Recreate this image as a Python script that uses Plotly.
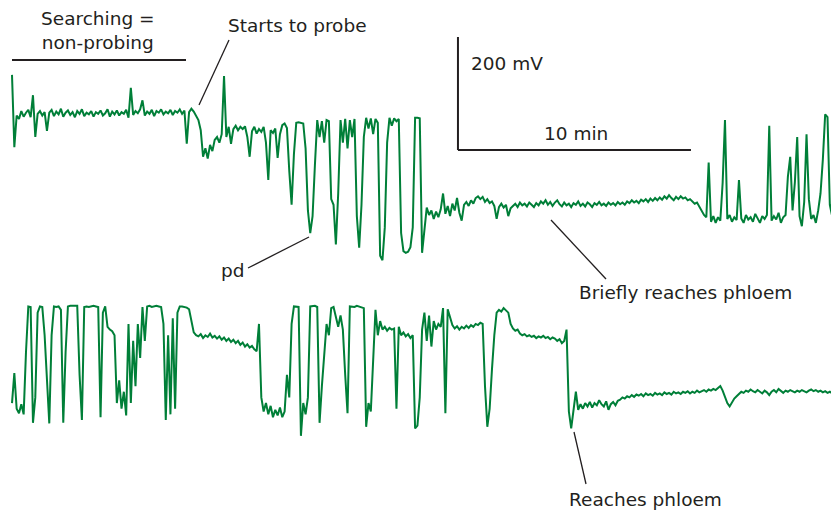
import plotly.graph_objects as go

# Time step of the recording samples (minutes)
DT_MIN = 0.1

# Upper recording: searching -> probing (pd) -> brief phloem -> probing again (mV)
upper_mv = [
    310, 182, 238, 232, 246, 236, 243, 248, 235, 274, 200, 241, 246, 238, 244, 211, 243, 248, 237, 245,
    240, 250, 236, 243, 247, 239, 244, 235, 246, 241, 249, 237, 243, 240, 246, 236, 244, 241, 247, 238,
    242, 249, 236, 245, 240, 247, 238, 244, 241, 248, 234, 287, 239, 246, 242, 249, 265, 238, 245, 241,
    248, 237, 246, 243, 249, 240, 245, 242, 248, 239, 246, 243, 249, 241, 247, 188, 244, 250, 245,
    236, 230, 212, 165, 180, 162, 186, 175, 195, 200, 190, 205, 308, 200, 218, 188, 214, 220, 212, 218,
    214, 219, 200, 165, 210, 218, 206, 214, 209, 218, 190, 124, 212, 207, 215, 163, 205, 221, 224, 216,
    140, 80, 170, 225, 226, 225, 224, 180, 70, 30, 60, 150, 230, 200, 228, 190, 230, 228, 90, 80,
    10, 100, 230, 190, 232, 180, 230, 200, 232, 60, 4, 80, 200, 234, 215, 233, 205, 232, 225, -10,
    -18, 40, 190, 234, 220, 233, 228, 232, 30, -2, -5, -3, 5, 40, 234, 234, 233,
    -5, 35, 75, 62, 70, 55, 68, 58, 72, 100, 64, 78, 60, 82, 70, 92, 66, 52, 80, 85,
    78, 88, 82, 92, 95, 90, 94, 85, 90, 83, 86, 78, 55, 76, 82, 75, 80, 60, 74, 78,
    82, 76, 84, 79, 82, 77, 84, 80, 76, 83, 79, 86, 82, 88, 80, 85, 78, 84, 88, 81,
    77, 84, 79, 82, 76, 83, 80, 86, 78, 82, 77, 84, 81, 76, 83, 80, 85, 79, 82, 78,
    84, 80, 83, 79, 85, 81, 84, 80, 86, 83, 88, 84, 87, 83, 89, 86, 90, 85, 91, 87,
    92, 88, 93, 89, 95, 91, 97, 92, 88, 94, 90, 95, 91, 93, 88, 90, 85, 82, 84, 76,
    70, 62, 58, 155, 50, 60, 48, 58, 52, 119, 230, 55, 62, 50, 58, 53, 124, 56, 48, 62,
    54, 58, 50, 64, 56, 48, 60, 55, 62, 220, 52, 60, 54, 66, 48, 58, 62, 130, 165, 70,
    120, 200, 60, 42, 85, 205, 90, 55, 62, 48, 70, 100, 160, 240, 235, 80, 60, 75, 85, 90,
]

# Lower recording: probing (pd) -> reaches phloem (mV)
lower_mv = [
    30, 83, 20, 12, 28, 10, 120, 201, 200, -5, 40, 190, 201, 200, 150, 60, -6, 150, 201, 200,
    201, 195, -5, 120, 201, 202, 202, 201, 202, 80, 0, 200, 201, 200, 201, 202, 201, 200, 5, 190,
    201, 165, 160, 157, 150, 30, 70, 20, 50, 8, 170, 30, 140, 60, 170, 110, 200, 140, 201, 202,
    200, 201, 202, 201, 200, 170, 0, 150, 10, 180, 20, 190, 201, 201, 200, 199, 196, 175, 155, 150,
    148, 152, 145, 150, 147, 153, 146, 149, 144, 148, 142, 146, 140, 144, 138, 142, 136, 140, 133, 137,
    130, 134, 128, 131, 125, 122, 170, 40, 15, 30, 10, 25, 5, 18, 8, 22, 5, 15, 80, 40,
    170, 201, 201, 200, -28, 30, 10, 40, 201, 201, 202, 200, -5, 60, 120, 170, 150, 198, 200, 180,
    165, 185, 160, 80, 12, 201, 201, 200, 202, 201, 200, 198, -12, 30, 15, 120, 195, 150, 175, 160,
    165, 158, 163, 160, 162, 20, 165, 150, 155, 148, 152, 145, 150, -15, -10, 40, 160, 190, 140, 185,
    130, 175, 160, 170, 165, 198, 12, 196, 180, 168, 162, 166, 160, 165, 162, 167, 163, 168, 165, 170,
    168, 172, 170, 60, -12, 20, 90, 150, 190, 195, 192, 198, 194, 190, 170, 162, 158, 160, 153, 150,
    152, 148, 150, 147, 149, 145, 148, 146, 149, 145, 147, 143, 146, 144, 140, 143, 136, 140, 160, 15,
    -15, 20, 50, 18, 28, 20, 30, 24, 32, 22, 30, 26, 35, 28, 24, 33, 18, 28, 32, 26,
    34, 36, 40, 38, 42, 40, 44, 41, 45, 43, 46, 42, 47, 44, 46, 43, 48, 45, 47, 44,
    49, 46, 48, 45, 50, 47, 49, 46, 50, 48, 51, 47, 50, 48, 52, 49, 51, 53, 50, 54,
    52, 55, 53, 57, 60, 52, 40, 30, 24, 32, 38, 42, 46, 50, 48, 52, 50, 54, 51, 49,
    53, 50, 47, 52, 49, 44, 50, 53, 49, 55, 51, 48, 52, 50, 53, 51, 49, 52, 50, 53,
    51, 49, 52, 54, 51, 53, 50, 52, 49, 51, 48, 50, 47, 46, 43, 44,
]

# Scale bar
SCALE_MIN = 10
SCALE_MV = 200
SCALE_T0 = 19.14
SCALE_V0 = 177

GREEN = "#007f38"
INK = "#231f20"
FONT = dict(family="DejaVu Sans", size=18.5, color=INK)

W, H = 839, 514
OFF = 8  # page body margin of the html page
FW, FH = W - OFF, H - OFF
t_upper = [i * DT_MIN for i in range(len(upper_mv))]
t_lower = [i * DT_MIN for i in range(len(lower_mv))]

fig = go.Figure()
fig.add_trace(go.Scatter(x=t_upper, y=upper_mv, mode="lines",
                         line=dict(color=GREEN, width=2), yaxis="y", hoverinfo="skip"))
fig.add_trace(go.Scatter(x=t_lower, y=lower_mv, mode="lines",
                         line=dict(color=GREEN, width=2), yaxis="y2", hoverinfo="skip"))

px_per_min = 23.3
mv_per_px = SCALE_MV / 113.0
x_range = [(OFF - 12) / px_per_min, (OFF + FW - 12) / px_per_min]
y1_range = [(250 - OFF - FH) * mv_per_px, (250 - OFF) * mv_per_px]
y2_range = [(420 - OFF - FH) * mv_per_px, (420 - OFF) * mv_per_px]

def P(x, y):
    return (x - OFF) / FW, 1 - (y - OFF) / FH

shapes = []
def pline(x0, y0, x1, y1, w=1.3):
    a, b = P(x0, y0)
    c, d = P(x1, y1)
    shapes.append(dict(type="line", xref="paper", yref="paper", x0=a, y0=b, x1=c, y1=d,
                       line=dict(color=INK, width=w)))

# scale bar (data coordinates of upper trace)
shapes.append(dict(type="line", xref="x", yref="y", x0=SCALE_T0, x1=SCALE_T0,
                   y0=SCALE_V0, y1=SCALE_V0 + SCALE_MV, line=dict(color=INK, width=2)))
shapes.append(dict(type="line", xref="x", yref="y", x0=SCALE_T0, x1=SCALE_T0 + SCALE_MIN,
                   y0=SCALE_V0, y1=SCALE_V0, line=dict(color=INK, width=2)))

pline(12, 60, 186, 60, 2)
pline(229, 40, 199, 105)
pline(248, 268, 309, 237)
pline(551, 220, 606, 279)
pline(574, 432, 586, 484)

annotations = []
def ptext(txt, x, y, anchor="left"):
    a, b = P(x, y)
    annotations.append(dict(text=txt, x=a, y=b, xref="paper", yref="paper", showarrow=False,
                            xanchor=anchor, yanchor="middle", font=FONT))

ptext("Searching =<br>non-probing", 98, 31, "center")
ptext("Starts to probe", 226, 25)
ptext("200 mV", 469, 63)
ptext("10 min", 542, 133)
ptext("pd", 219, 270)
ptext("Briefly reaches phloem", 577, 292)
ptext("Reaches phloem", 567, 499)

fig.update_layout(
    width=FW, height=FH, margin=dict(l=0, r=0, t=0, b=0),
    paper_bgcolor="white", plot_bgcolor="white", showlegend=False,
    xaxis=dict(range=x_range, visible=False, fixedrange=True),
    yaxis=dict(range=y1_range, visible=False, fixedrange=True),
    yaxis2=dict(range=y2_range, visible=False, overlaying="y", fixedrange=True),
    shapes=shapes, annotations=annotations,
)
fig.write_html("out.html")
